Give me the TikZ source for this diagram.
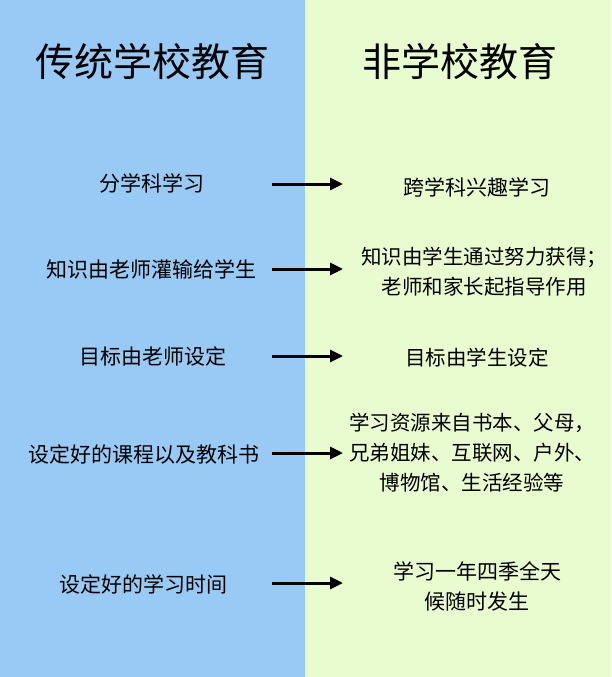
\documentclass[tikz,border=0pt]{standalone}
\usepackage{fontspec}
\setmainfont{Noto Sans CJK SC}
\usetikzlibrary{arrows.meta}
\definecolor{leftbg}{RGB}{153,201,245}
\definecolor{rightbg}{RGB}{232,252,207}
\tikzset{
  title/.style={inner sep=0pt, font=\fontsize{39}{44}\selectfont},
  item/.style={inner sep=0pt, align=center, font=\fontsize{21}{30}\selectfont},
  itemr/.style={inner sep=0pt, align=center, font=\fontsize{20.5}{30}\selectfont},
  conn/.style={line width=3pt, -{Triangle[length=13pt,width=12pt]}}
}
\begin{document}
\begin{tikzpicture}[x=1pt,y=-1pt]
\useasboundingbox (0,0) rectangle (611,677);
\fill[leftbg] (0,0) rectangle (305,677);
\fill[rightbg] (305,0) rectangle (611,677);
\node[title] (tl) at (152,62) {传统学校教育};
\node[title] (tr) at (460,62) {非学校教育};
% left items
\node[item] (l1) at (152,183) {分学科学习};
\node[item] (l2) at (151,269) {知识由老师灌输给学生};
\node[item] (l3) at (153,356) {目标由老师设定};
\node[item] (l4) at (144,455) {设定好的课程以及教科书};
\node[item] (l5) at (143,584) {设定好的学习时间};
% right items
\node[item] (r1) at (477,187) {跨学科兴趣学习};
\node[itemr] (r2) at (484,272) {知识由学生通过努力获得；\\老师和家长起指导作用};
\node[itemr] (r3) at (477,358) {目标由学生设定};
\node[itemr] (r4) at (472,453) {学习资源来自书本、父母，\\兄弟姐妹、互联网、户外、\\博物馆、生活经验等};
\node[item] (r5) at (477,586) {学习一年四季全天\\候随时发生};
% arrow anchors
\coordinate (a1s) at (272,184); \coordinate (a1e) at (343,184);
\coordinate (a2s) at (272,269); \coordinate (a2e) at (343,269);
\coordinate (a3s) at (272,356); \coordinate (a3e) at (343,356);
\coordinate (a4s) at (272,453); \coordinate (a4e) at (343,453);
\coordinate (a5s) at (272,583); \coordinate (a5e) at (343,583);
\draw[conn] (a1s) -- (a1e);
\draw[conn] (a2s) -- (a2e);
\draw[conn] (a3s) -- (a3e);
\draw[conn] (a4s) -- (a4e);
\draw[conn] (a5s) -- (a5e);
\end{tikzpicture}
\end{document}
